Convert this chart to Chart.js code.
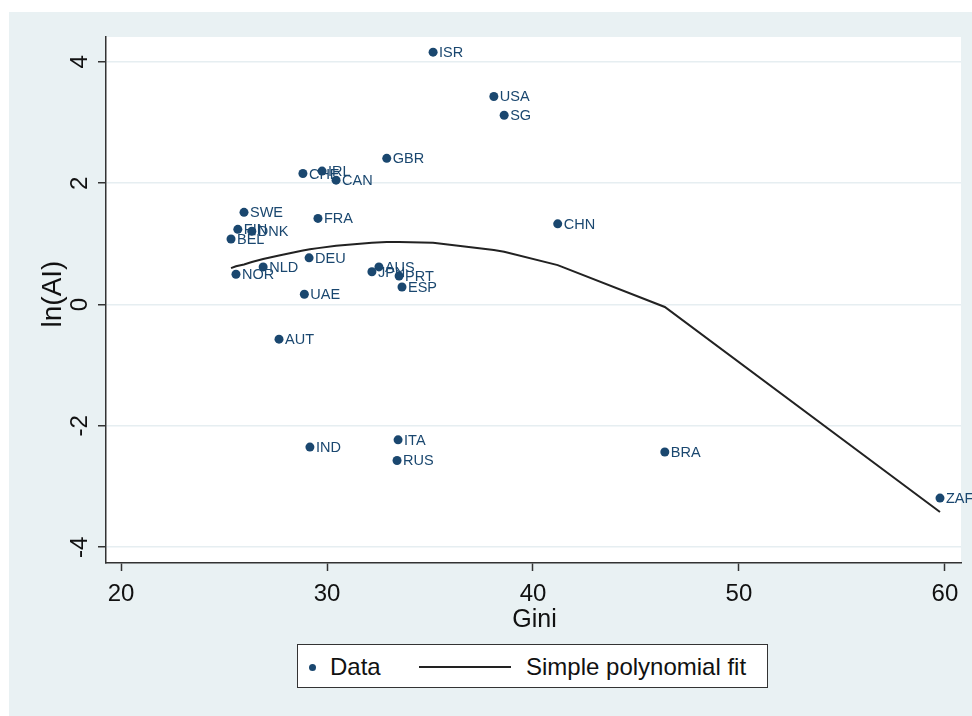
<!DOCTYPE html>
<html>
<head>
<meta charset="utf-8">
<script src="https://cdn.jsdelivr.net/npm/chart.js@4"></script>
<style>
  html, body { margin:0; padding:0; background:#fff; }
  #wrap { position:relative; width:972px; height:716px; }
  #legend {
    position:absolute; left:297px; top:644px; width:469px; height:42px;
    background:#fff; border:1.5px solid #333;
    font-family:"Liberation Sans", Arial, sans-serif; font-size:24px; color:#111;
  }
  #legend .dot { position:absolute; left:11px; top:19px; width:7px; height:7px; border-radius:50%; background:#1a476f; }
  #legend .t1 { position:absolute; left:32px; top:8px; }
  #legend .ln { position:absolute; left:121px; top:21px; width:92px; height:2px; background:#222; }
  #legend .t2 { position:absolute; left:228px; top:8px; }
</style>
</head>
<body>
<div id="wrap">
  <canvas id="c" width="972" height="716"></canvas>
  <div id="legend">
    <span class="dot"></span><span class="t1">Data</span>
    <span class="ln"></span><span class="t2">Simple polynomial fit</span>
  </div>
</div>
<script>
// Datos
const countries = ['ISR','USA','SG','GBR','CHE','IRL','CAN','SWE','FRA','FIN','DNK','BEL','CHN','DEU','NLD','NOR','AUS','JPN','PRT','ESP','UAE','AUT','IND','ITA','RUS','BRA','ZAF'];
const gini = [35.15, 38.1, 38.6, 32.9, 28.83, 29.76, 30.44, 25.97, 29.56, 25.67, 26.35, 25.34, 41.2, 29.13, 26.9, 25.58, 32.52, 32.18, 33.5, 33.64, 28.9, 27.67, 29.17, 33.45, 33.4, 46.4, 59.76];
const lnAI = [4.16, 3.43, 3.12, 2.41, 2.16, 2.20, 2.05, 1.52, 1.42, 1.24, 1.21, 1.08, 1.33, 0.77, 0.62, 0.50, 0.62, 0.54, 0.47, 0.29, 0.17, -0.57, -2.35, -2.23, -2.57, -2.43, -3.19];

// Ajuste polinomial
const fitGini = [25.34, 25.58, 25.97, 26.35, 26.9, 27.67, 28.83, 29.17, 29.56, 30.44, 32.18, 32.9, 33.5, 35.15, 38.1, 38.6, 41.2, 46.4, 59.76];
const fitLn   = [0.60, 0.63, 0.66, 0.70, 0.75, 0.81, 0.89, 0.91, 0.93, 0.97, 1.02, 1.03, 1.03, 1.02, 0.90, 0.87, 0.65, -0.04, -3.42];

const xTicks = [20, 30, 40, 50, 60];
const yTicks = [-4, -2, 0, 2, 4];

const NAVY = '#1a476f';
const BG = '#e9f1f3';
const FONT = '"Liberation Sans", Arial, sans-serif';

// Fondo: región del gráfico gris-azulado, área de trazado blanca
const bgPlugin = {
  id:'bg',
  beforeDraw(chart){
    const {ctx, chartArea:a} = chart;
    ctx.save();
    ctx.fillStyle = '#fff';
    ctx.fillRect(0, 0, chart.width, chart.height);
    ctx.fillStyle = BG;
    ctx.fillRect(9, 12, chart.width - 9, chart.height - 12);
    ctx.fillStyle = '#fff';
    ctx.fillRect(a.left, a.top, a.right - a.left, a.bottom - a.top);
    ctx.restore();
  }
};

// Etiquetas de países + ticks verticales rotados + títulos de ejes
const labelsPlugin = {
  id:'labels',
  afterDatasetsDraw(chart){
    const ctx = chart.ctx;
    const meta = chart.getDatasetMeta(0);
    ctx.save();
    ctx.font = '14.5px ' + FONT;
    ctx.fillStyle = NAVY;
    ctx.textAlign = 'left';
    ctx.textBaseline = 'middle';
    meta.data.forEach((pt, i) => ctx.fillText(countries[i], pt.x + 6, pt.y + 1));
    ctx.restore();
  },
  afterDraw(chart){
    const ctx = chart.ctx;
    const y = chart.scales.y, a = chart.chartArea;
    ctx.save();
    ctx.fillStyle = '#111';
    ctx.font = '24px ' + FONT;
    ctx.textAlign = 'center';
    ctx.textBaseline = 'alphabetic';
    yTicks.forEach(v => {
      ctx.save();
      ctx.translate(87, y.getPixelForValue(v));
      ctx.rotate(-Math.PI/2);
      ctx.fillText(String(v), 0, 0);
      ctx.restore();
    });
    // título X
    ctx.font = '25px ' + FONT;
    ctx.fillText('Gini', (a.left + a.right) / 2 + 1, 627);
    // título Y
    ctx.font = '28px ' + FONT;
    ctx.translate(61, 294);
    ctx.rotate(-Math.PI/2);
    ctx.fillText('ln(AI)', 0, 0);
    ctx.restore();
  }
};

new Chart(document.getElementById('c'), {
  type:'scatter',
  data:{
    datasets:[
      {
        label:'Data',
        data: gini.map((g, i) => ({x:g, y:lnAI[i]})),
        pointRadius:4.5,
        pointBackgroundColor:NAVY,
        pointBorderColor:NAVY,
        pointBorderWidth:0,
        order:2
      },
      {
        label:'Simple polynomial fit',
        data: fitGini.map((g, i) => ({x:g, y:fitLn[i]})),
        showLine:true,
        borderColor:'#222',
        borderWidth:2,
        pointRadius:0,
        fill:false,
        tension:0,
        order:1
      }
    ]
  },
  options:{
    responsive:false,
    animation:false,
    layout:{ padding:{ left:0, top:37, right:11, bottom:0 } },
    plugins:{ legend:{ display:false }, tooltip:{ enabled:false } },
    scales:{
      x:{
        type:'linear',
        min:19.27, max:60.78,
        afterBuildTicks(s){ s.ticks = xTicks.map(v => ({value:v})); },
        afterFit(s){ s.height = 153; },
        ticks:{ font:{ family:FONT, size:24 }, color:'#111', padding:9, maxRotation:0 },
        grid:{ drawOnChartArea:false, tickLength:8, tickColor:'#333', tickWidth:1.5 },
        border:{ color:'#333', width:1.5 }
      },
      y:{
        type:'linear',
        min:-4.26, max:4.41,
        afterBuildTicks(s){ s.ticks = yTicks.map(v => ({value:v})); },
        afterFit(s){ s.width = 106; },
        ticks:{ display:false },
        grid:{ color:'#e6eef1', lineWidth:1.5, tickLength:8, tickColor:'#333', tickWidth:1.5 },
        border:{ color:'#333', width:1.5 }
      }
    }
  },
  plugins:[bgPlugin, labelsPlugin]
});
</script>
</body>
</html>
